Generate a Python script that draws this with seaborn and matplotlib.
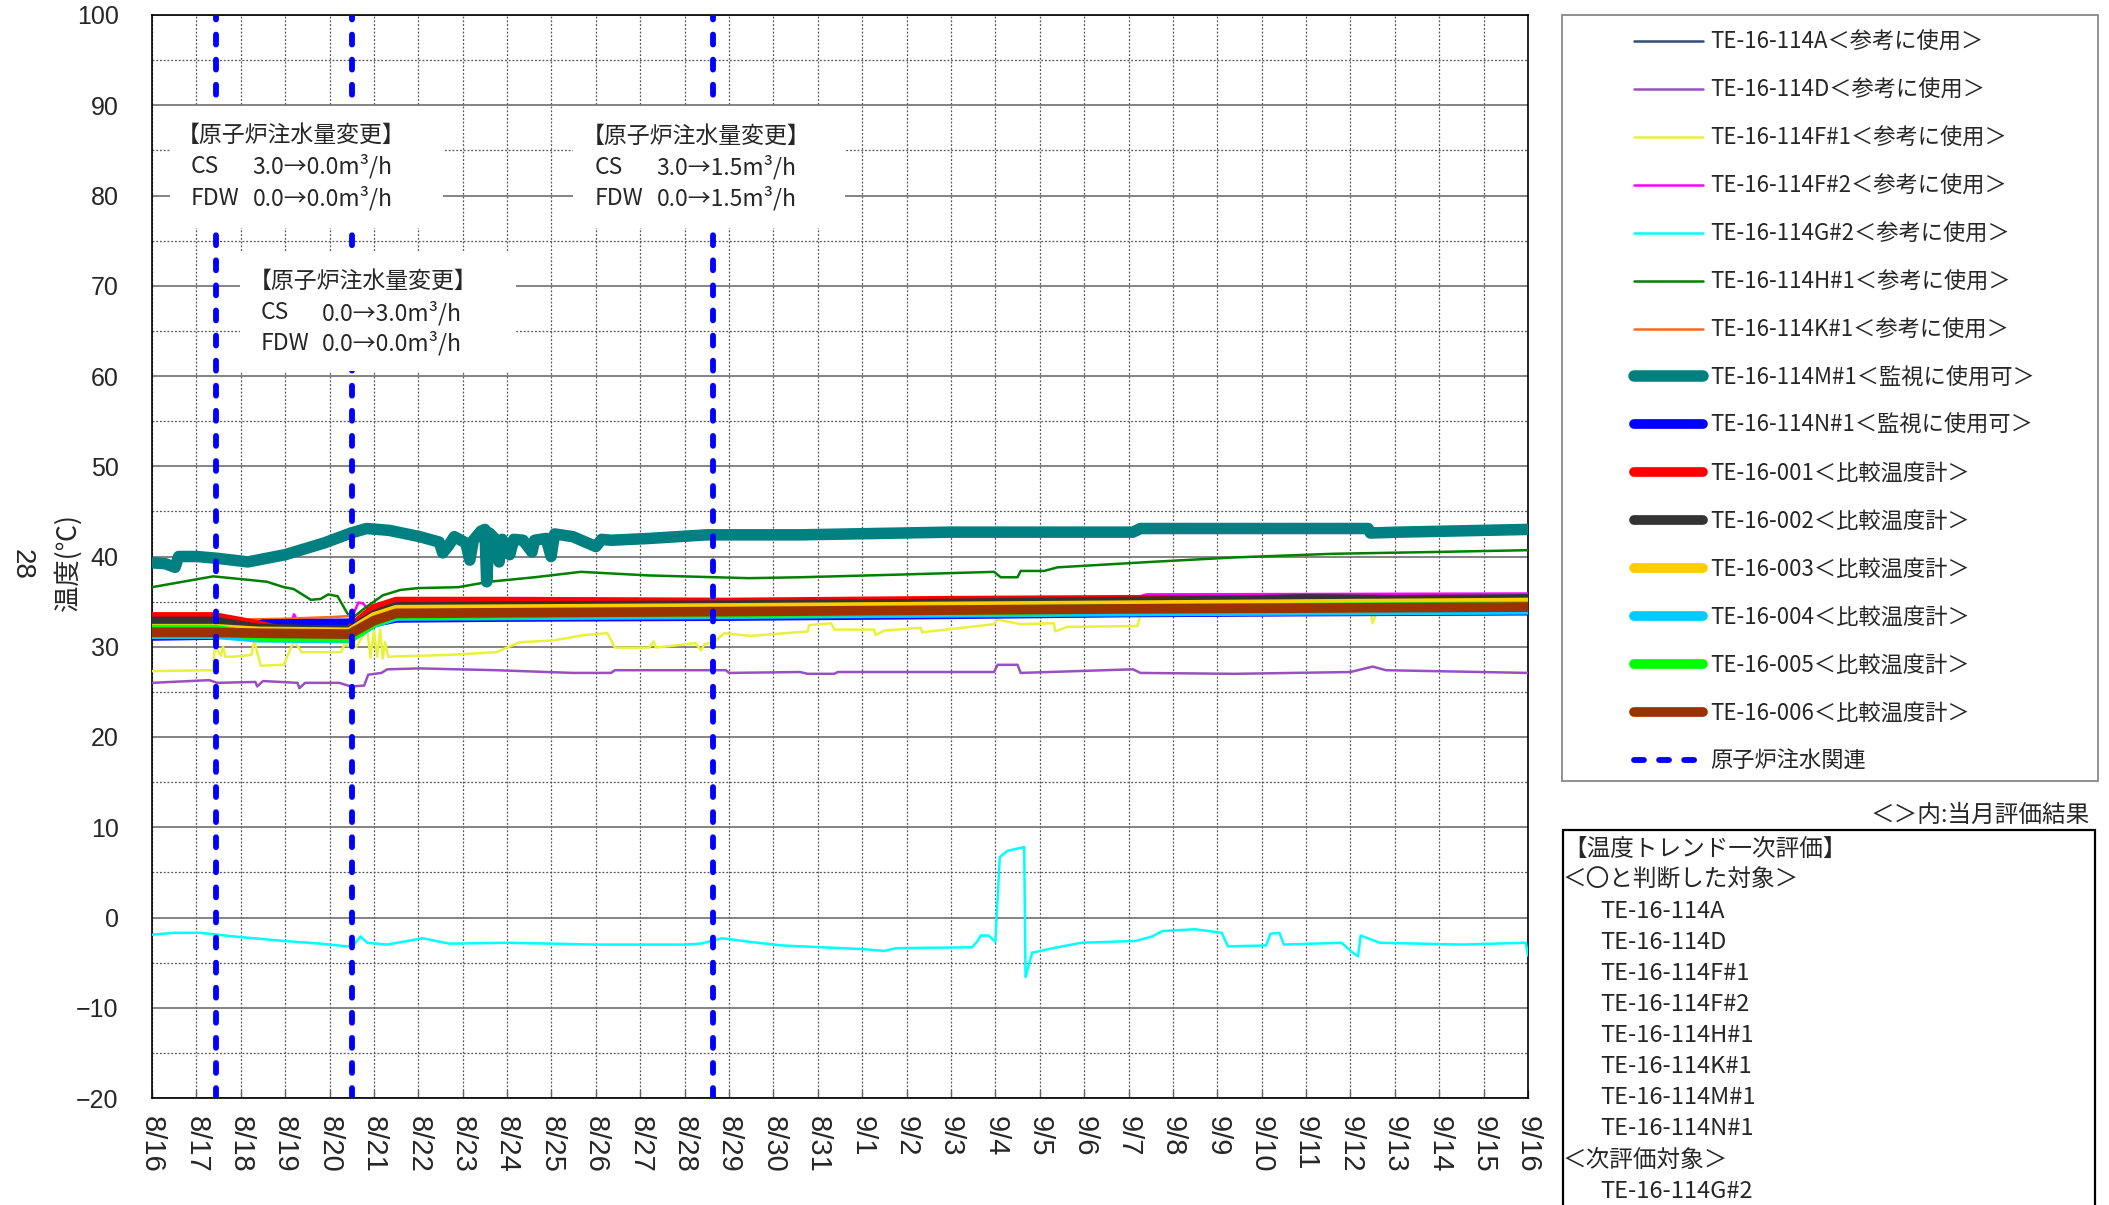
# 原子炉格納容器 温度トレンド (8/16〜9/16) の再現
import numpy as np
import pandas as pd
import matplotlib
matplotlib.use("Agg")
import matplotlib.pyplot as plt
import seaborn as sns
from matplotlib.patches import Rectangle
from matplotlib.ticker import MultipleLocator

W, H = 2109, 1205

# 横軸: 8/16 0:00 からの経過日数
date_labels = [f"{d.month}/{d.day}" for d in pd.date_range("2013-08-16", "2013-09-16")]

# 原子炉注水量変更のタイミング (経過日数)
event_days = [1.44, 4.5, 12.63]

# ---- 各温度計の読み取り値 ----
t_114A = [0, 1.4, 2.4, 4.45, 5.0, 5.5, 13.0, 22.0, 31.0]
v_114A = [31.7, 31.7, 31.4, 31.3, 32.8, 33.6, 33.8, 34.1, 34.3]

t_114D = [0, 1.29, 1.47, 2.33, 2.37, 2.5, 3.28, 3.32, 3.45, 4.22, 4.48, 4.78, 4.87, 5.17, 5.3,
          6.03, 7.76, 9.48, 10.34, 10.43, 12.93, 13.0, 14.6, 14.77, 15.37, 15.45, 18.97, 19.05,
          19.5, 19.57, 22.1, 22.27, 24.4, 27.0, 27.5, 27.8, 31.0]
v_114D = [26.0, 26.3, 26.0, 26.1, 25.6, 26.2, 26.0, 25.4, 26.0, 26.0, 25.6, 25.7, 26.9, 27.1, 27.5,
          27.6, 27.4, 27.1, 27.1, 27.4, 27.4, 27.1, 27.2, 27.0, 27.0, 27.2, 27.2, 28.0,
          28.0, 27.1, 27.5, 27.1, 27.0, 27.2, 27.8, 27.4, 27.1]

t_114F1 = [0, 1.37, 1.42, 1.55, 1.6, 1.65, 1.85, 2.24, 2.3, 2.45, 2.97, 3.2, 3.37, 4.26, 4.33,
           4.6, 4.85, 4.92, 5.0, 5.07, 5.14, 5.2, 5.25, 5.32, 6.7, 7.76, 8.28, 9.05, 9.74, 10.26,
           10.43, 11.2, 11.3, 11.35, 12.24, 12.37, 12.45, 12.66, 12.89, 13.49, 14.77, 14.81,
           15.3, 15.37, 16.27, 16.3, 16.5, 17.32, 17.35, 18.97, 19.05, 19.57, 20.32, 20.35,
           20.62, 22.2, 22.27, 23.0, 27.45, 27.5, 27.6, 31.0]
v_114F1 = [27.3, 27.4, 30.1, 29.0, 30.0, 28.9, 28.9, 29.1, 30.7, 27.9, 28.0, 30.7, 29.4, 29.4, 30.2,
           30.0, 31.9, 28.8, 31.8, 28.9, 31.9, 28.7, 30.5, 28.9, 29.1, 29.4, 30.5, 30.7, 31.3, 31.5,
           29.9, 29.9, 30.6, 29.9, 30.4, 29.6, 30.3, 30.5, 31.5, 31.2, 31.7, 32.4,
           32.6, 31.9, 31.9, 31.3, 31.8, 32.1, 31.6, 32.5, 33.0, 32.5, 32.6, 31.7,
           32.2, 32.3, 33.6, 33.8, 34.0, 32.6, 34.0, 34.3]

t_114F2 = [0, 1.4, 2.2, 2.3, 2.4, 3.1, 3.2, 3.3, 4.3, 4.5, 4.65, 4.75, 4.9, 5.5, 13.0, 22.0, 22.4, 31.0]
v_114F2 = [32.3, 32.3, 32.2, 32.8, 32.2, 32.2, 33.6, 32.6, 32.6, 33.2, 34.9, 34.8, 34.0, 34.3, 34.5,
           35.2, 35.8, 35.9]

t_114G2 = [0, 0.5, 1.1, 1.84, 2.97, 3.8, 4.4, 4.55, 4.7, 4.85, 5.3, 6.1, 6.7, 8.0, 10.0, 12.0,
           12.36, 12.85, 13.47, 14.2, 16.0, 16.5, 16.77, 18.48, 18.6, 18.67, 18.85, 19.0, 19.1,
           19.28, 19.65, 19.68, 19.83, 20.3, 20.93, 22.16, 22.53, 22.77, 23.5, 24.1, 24.24, 25.1,
           25.2, 25.4, 25.5, 26.8, 27.05, 27.17, 27.23, 27.66, 29.5, 30.95, 31.0]
v_114G2 = [-1.9, -1.7, -1.7, -2.1, -2.6, -2.9, -3.2, -3.0, -2.1, -2.8, -3.0, -2.3, -2.9, -2.8, -3.0, -3.0,
           -2.9, -2.3, -2.7, -3.1, -3.5, -3.7, -3.4, -3.3, -2.6, -2.0, -2.0, -2.7, 6.7,
           7.4, 7.8, -6.6, -3.9, -3.4, -2.8, -2.6, -2.1, -1.5, -1.3, -1.7, -3.2, -3.1,
           -1.8, -1.7, -3.0, -2.8, -3.9, -4.3, -2.0, -2.8, -3.0, -2.8, -4.2]

t_114H1 = [0, 1.38, 2.2, 2.59, 2.97, 3.19, 3.58, 3.8, 3.97, 4.18, 4.4, 4.52, 4.8, 5.2, 5.6, 6.0,
           6.9, 7.59, 8.62, 9.66, 11.2, 13.45, 14.6, 16.87, 18.97, 19.12, 19.5, 19.57, 20.1, 20.4,
           22.5, 24.4, 26.6, 28.9, 31.0]
v_114H1 = [36.6, 37.8, 37.4, 37.2, 36.6, 36.4, 35.2, 35.3, 35.8, 35.6, 33.7, 33.2, 34.3, 35.7, 36.3, 36.5,
           36.6, 37.2, 37.7, 38.3, 37.9, 37.6, 37.7, 38.0, 38.3, 37.7, 37.7, 38.4, 38.4, 38.8,
           39.4, 39.9, 40.3, 40.5, 40.7]

t_114K1 = [0, 1.4, 1.85, 3.0, 4.1, 4.45, 4.6, 5.0, 5.5, 13.0, 22.0, 31.0]
v_114K1 = [32.6, 32.7, 33.0, 33.1, 33.3, 33.4, 33.0, 33.6, 34.2, 34.4, 34.7, 34.9]

t_114M1 = [0, 0.3, 0.52, 0.6, 1.0, 1.47, 2.16, 3.0, 3.88, 4.48, 4.83, 5.34, 6.03, 6.47, 6.55,
           6.68, 6.81, 7.07, 7.16, 7.24, 7.41, 7.5, 7.54, 7.6, 7.76, 7.82, 7.89, 8.06, 8.15, 8.36,
           8.56, 8.62, 8.88, 8.99, 9.07, 9.48, 10.0, 10.13, 10.34, 11.2, 12.5, 13.45, 14.6, 18.0,
           22.1, 22.27, 25.9, 27.4, 27.45, 28.1, 31.0]
v_114M1 = [39.3, 39.2, 38.8, 40.0, 40.0, 39.8, 39.4, 40.2, 41.5, 42.6, 43.1, 42.9, 42.2, 41.6, 40.4,
           41.2, 42.2, 41.5, 39.6, 41.8, 42.8, 43.0, 37.2, 42.6, 41.8, 39.4, 41.9, 40.2, 41.9, 41.8,
           40.5, 41.8, 42.0, 40.0, 42.5, 42.2, 41.1, 41.9, 41.8, 42.0, 42.4, 42.4, 42.4, 42.7,
           42.7, 43.1, 43.1, 43.1, 42.6, 42.7, 43.0]

t_114N1 = [0, 1.4, 2.0, 2.5, 4.45, 4.5, 4.6, 5.0, 5.5, 8.0, 13.0, 18.0, 22.0, 26.0, 31.0]
v_114N1 = [31.2, 31.3, 31.8, 32.5, 32.6, 31.2, 31.8, 32.7, 33.2, 33.3, 33.4, 33.6, 33.8, 33.9, 34.0]

t_001 = [0, 1.4, 2.4, 2.8, 4.45, 4.6, 5.0, 5.5, 8.0, 13.0, 18.0, 22.0, 31.0]
v_001 = [33.3, 33.3, 32.4, 31.9, 31.8, 32.6, 34.2, 35.0, 35.0, 34.9, 35.1, 35.2, 35.2]

t_002 = [0, 1.4, 2.4, 4.45, 5.0, 5.5, 8.0, 13.0, 18.0, 22.0, 24.0, 26.0, 28.0, 31.0]
v_002 = [32.8, 32.8, 32.0, 31.8, 33.5, 34.4, 34.5, 34.6, 34.8, 35.0, 35.1, 35.3, 35.2, 35.3]

t_band = [0, 1.4, 2.4, 4.45, 5.0, 5.5, 13.0, 22.0, 31.0]
v_003 = [32.0, 32.0, 31.7, 31.6, 33.3, 34.1, 34.3, 34.6, 34.9]
v_004 = [31.4, 31.4, 31.0, 30.9, 32.6, 33.4, 33.6, 33.9, 34.1]
v_005 = [31.9, 31.9, 31.2, 31.0, 32.7, 33.6, 33.8, 34.2, 34.5]
v_006 = [31.6, 31.6, 31.5, 31.4, 32.9, 33.7, 33.9, 34.2, 34.4]

THIN, THICK = 1.8, 7.0
series = [
    ("TE-16-114A＜参考に使用＞", t_114A, v_114A, "#2e4c7e", THIN),
    ("TE-16-114D＜参考に使用＞", t_114D, v_114D, "#9a4fc0", THIN),
    ("TE-16-114F#1＜参考に使用＞", t_114F1, v_114F1, "#e8f23a", THIN),
    ("TE-16-114F#2＜参考に使用＞", t_114F2, v_114F2, "#ff00ff", THIN),
    ("TE-16-114G#2＜参考に使用＞", t_114G2, v_114G2, "#00ffff", THIN),
    ("TE-16-114H#1＜参考に使用＞", t_114H1, v_114H1, "#008000", THIN),
    ("TE-16-114K#1＜参考に使用＞", t_114K1, v_114K1, "#ff6a1a", THIN),
    ("TE-16-114M#1＜監視に使用可＞", t_114M1, v_114M1, "#008080", THICK + 1.3),
    ("TE-16-114N#1＜監視に使用可＞", t_114N1, v_114N1, "#0000ff", THICK),
    ("TE-16-001＜比較温度計＞", t_001, v_001, "#ff0000", THICK),
    ("TE-16-002＜比較温度計＞", t_002, v_002, "#333333", THICK),
    ("TE-16-003＜比較温度計＞", t_band, v_003, "#ffcc00", THICK),
    ("TE-16-004＜比較温度計＞", t_band, v_004, "#00ccff", THICK),
    ("TE-16-005＜比較温度計＞", t_band, v_005, "#00ff00", THICK),
    ("TE-16-006＜比較温度計＞", t_band, v_006, "#993300", THICK),
]

eval_lines = ["【温度トレンド一次評価】", "＜〇と判断した対象＞",
              "TE-16-114A", "TE-16-114D", "TE-16-114F#1", "TE-16-114F#2", "TE-16-114H#1",
              "TE-16-114K#1", "TE-16-114M#1", "TE-16-114N#1",
              "＜次評価対象＞", "TE-16-114G#2"]

# ---- 描画 ----
sns.set_theme(style="white")
plt.rcParams["font.family"] = ["Noto Sans CJK JP", "DejaVu Sans"]

fig = plt.figure(figsize=(W / 100, H / 100), dpi=100)
ax = fig.add_axes([152 / W, 1 - 1098 / H, 1376 / W, 1083 / H])

handles = []
for label, t, v, color, lw in series:
    sns.lineplot(x=t, y=v, ax=ax, color=color, linewidth=lw, estimator=None, sort=False,
                 solid_capstyle="round", zorder=3)
    line = ax.get_lines()[-1]
    line.set_label(label)
    handles.append(line)

for i, d in enumerate(event_days):
    ln = ax.axvline(d, color="#0000ff", lw=4.2, dashes=(1.7, 2.6), dash_capstyle="round",
                    zorder=4, label="原子炉注水関連" if i == 0 else "_nolegend_")
    if i == 0:
        handles.append(ln)

if ax.get_legend() is not None:
    ax.get_legend().remove()

ax.set_xlim(0, 31)
ax.set_ylim(-20, 100)
ax.set_xticks(range(len(date_labels)))
ax.set_xticklabels(date_labels, rotation=270, fontsize=21, family="Liberation Sans")
yticks = list(range(-20, 101, 10))
ax.set_yticks(yticks)
ax.set_yticklabels([str(v).replace("-", "\u2212") for v in yticks], fontsize=18,
                   family="Liberation Sans")
ax.yaxis.set_minor_locator(MultipleLocator(5))
ax.set_xlabel("")
ax.set_ylabel("")

ax.set_axisbelow(True)
ax.grid(axis="y", which="major", color="#6e6e6e", lw=1.2, ls="-")
ax.grid(axis="y", which="minor", color="#555555", lw=0.9, ls=(0, (1.5, 1.5)))
ax.grid(axis="x", which="major", color="#555555", lw=0.9, ls=(0, (1.5, 1.5)))
ax.tick_params(axis="x", which="major", direction="in", length=6, width=1, color="#666666",
               pad=13, bottom=True)
ax.tick_params(axis="y", which="both", length=0, pad=24)
for s in ax.spines.values():
    s.set_color("black")
    s.set_linewidth(1.2)

# 注水量変更の注記 (白地ボックス)
notes = [
    ((0.41, 76.4), 6.14, 13.5, (0.56, 0.86, 2.27), (86.7, 83.2, 79.7), ("3.0→0.0m³/h", "0.0→0.0m³/h")),
    ((1.98, 60.5), 6.22, 13.1, (2.18, 2.45, 3.83), (70.5, 67.0, 63.6), ("0.0→3.0m³/h", "0.0→0.0m³/h")),
    ((9.48, 76.4), 6.14, 13.5, (9.68, 9.98, 11.37), (86.6, 83.1, 79.7), ("3.0→1.5m³/h", "0.0→1.5m³/h")),
]
for (x0, y0), w, h, (xt, xl, xv), (y1, y2, y3), (cs, fdw) in notes:
    ax.add_patch(Rectangle((x0, y0), w, h, fc="white", ec="none", zorder=5))
    ax.text(xt, y1, "【原子炉注水量変更】", fontsize=16.5, va="center", zorder=6)
    ax.text(xl, y2, "CS", fontsize=16.5, va="center", zorder=6)
    ax.text(xl, y3, "FDW", fontsize=16.5, va="center", zorder=6)
    ax.text(xv, y2, cs, fontsize=16.5, va="center", zorder=6)
    ax.text(xv, y3, fdw, fontsize=16.5, va="center", zorder=6)

fig.text(68 / W, 1 - 563 / H, "温度(℃)", rotation=90, ha="center", va="center", fontsize=19)
fig.text(22 / W, 1 - 564 / H, "28", rotation=270, ha="center", va="center", fontsize=20,
         family="Liberation Sans")

# 凡例 (枠は別に描く)
fig.patches.append(Rectangle((1562 / W, 1 - 781 / H), 536 / W, 766 / H, transform=fig.transFigure,
                             fc="white", ec="#888888", lw=1.3, zorder=0))
fig.legend(handles, [hd.get_label() for hd in handles], loc="upper left",
           bbox_to_anchor=(1634 / W, 1 - 31 / H), frameon=False, fontsize=16,
           handlelength=3.1, handletextpad=0.35, labelspacing=1.12,
           borderpad=0, borderaxespad=0)

# 一次評価ボックス
fig.text(2090 / W, 1 - 815 / H, "＜＞内:当月評価結果", ha="right", va="center", fontsize=17)
fig.patches.append(Rectangle((1563 / W, -0.05), 532 / W, 0.05 + 1 - 830 / H,
                             transform=fig.transFigure, fc="white", ec="black", lw=1.6, zorder=0))
for i, txt in enumerate(eval_lines):
    x = 1563 if txt.startswith(("【", "＜")) else 1600
    fig.text(x / W, 1 - (849 + 31.1 * i) / H, txt, ha="left", va="center", fontsize=17)

fig.savefig("out.png", dpi=100)
